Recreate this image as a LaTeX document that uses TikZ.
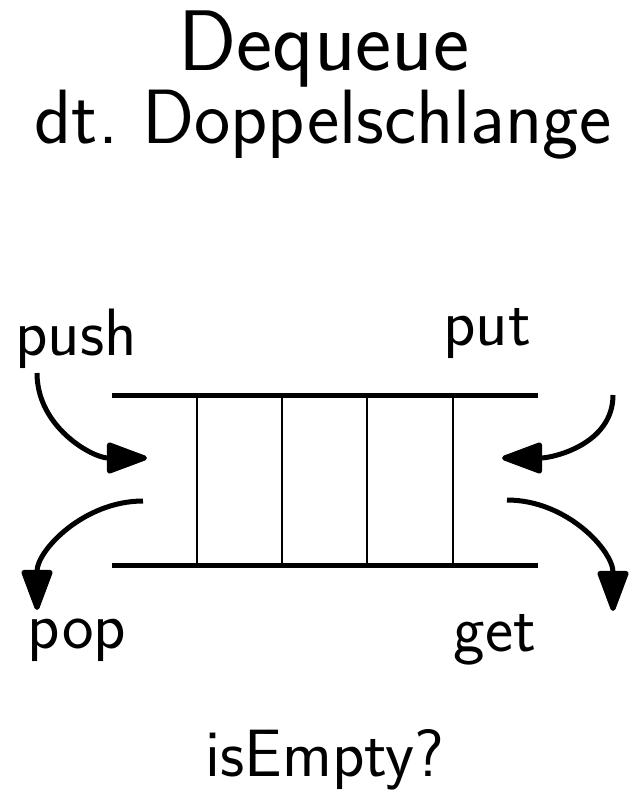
\documentclass[tikz,border=0pt]{standalone}
\usepackage{fontspec}
\usetikzlibrary{arrows.meta}
\frenchspacing
\begin{document}
\begin{tikzpicture}[x=1pt,y=1pt,
  lbl/.style={font=\sffamily\fontsize{67}{69}\selectfont,anchor=base,inner sep=0pt},
  rail/.style={line width=5pt},
  cell/.style={line width=2.6pt},
  flow/.style={line width=5pt,-{Triangle[length=45pt,width=32pt,round]}}]
\useasboundingbox (0,0) rectangle (638,-793);
% titles
\node[anchor=base,inner sep=0pt,font=\sffamily\fontsize{86}{88}\selectfont] (title) at (324,-70) {Dequeue};
\node[anchor=base,inner sep=0pt,font=\sffamily\fontsize{77}{79}\selectfont] (sub) at (323,-143) {dt.\ Doppelschlange};
% queue
\draw[rail] (112,-395) -- (538,-395);
\draw[rail] (112,-565) -- (538,-565);
\foreach \x in {197,282,367,453} \draw[cell] (\x,-395) -- (\x,-565);
% labels
\node[lbl] (push) at (76,-355) {push};
\node[lbl] (put) at (487,-345) {put};
\node[lbl] (pop) at (77,-648) {pop};
\node[lbl] (get) at (495,-651) {get};
\node[anchor=base,inner sep=0pt,font=\sffamily\fontsize{67}{69}\selectfont] (empty) at (325,-776) {isEmpty?};
% arrow endpoints
\coordinate (pushS) at (37,-373);
\coordinate (pushE) at (147,-458);
\coordinate (popS) at (143,-501);
\coordinate (popE) at (37,-610);
\coordinate (putS) at (613,-395);
\coordinate (putE) at (502,-458);
\coordinate (getS) at (507,-500);
\coordinate (getE) at (613,-611);
\draw[flow] (pushS) to[out=-90,in=180] (pushE);
\draw[flow] (popS) to[out=180,in=90] (popE);
\draw[flow] (putS) to[out=-90,in=0] (putE);
\draw[flow] (getS) to[out=0,in=90] (getE);
\end{tikzpicture}
\end{document}
